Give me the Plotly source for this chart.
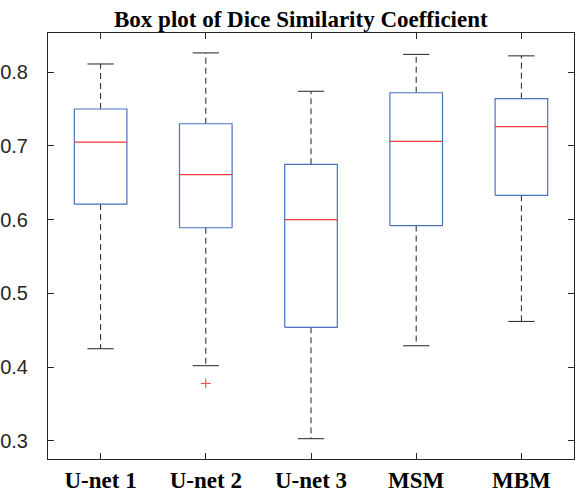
import plotly.graph_objects as go

# values
groups = ['U-net 1', 'U-net 2', 'U-net 3', 'MSM', 'MBM']
upper_whisker = [0.811, 0.826, 0.774, 0.824, 0.822]
q3 = [0.750, 0.730, 0.675, 0.772, 0.764]
median = [0.705, 0.661, 0.600, 0.706, 0.726]
q1 = [0.621, 0.589, 0.454, 0.592, 0.633]
lower_whisker = [0.425, 0.402, 0.303, 0.429, 0.462]
outlier_group = [2]
outlier_value = [0.378]

y_ticks = [0.3, 0.4, 0.5, 0.6, 0.7, 0.8]

BOX_HALF = 0.25
CAP_HALF = 0.125
BLUE = '#4a72c0'
RED = '#f03c3c'
AXIS = '#262626'


def _segments(pairs):
    xs, ys = [], []
    for x0, y0, x1, y1 in pairs:
        xs += [x0, x1, None]
        ys += [y0, y1, None]
    return xs, ys


pos = list(range(1, len(groups) + 1))

box_x, box_y = [], []
for p, lo, hi in zip(pos, q1, q3):
    box_x += [p - BOX_HALF, p + BOX_HALF, p + BOX_HALF, p - BOX_HALF, p - BOX_HALF, None]
    box_y += [lo, lo, hi, hi, lo, None]

med_x, med_y = _segments([(p - BOX_HALF, m, p + BOX_HALF, m) for p, m in zip(pos, median)])
wh_x, wh_y = _segments(
    [(p, hi, p, uw) for p, hi, uw in zip(pos, q3, upper_whisker)]
    + [(p, lo, p, lw) for p, lo, lw in zip(pos, q1, lower_whisker)])
cap_x, cap_y = _segments(
    [(p - CAP_HALF, v, p + CAP_HALF, v) for p, v in zip(pos, upper_whisker)]
    + [(p - CAP_HALF, v, p + CAP_HALF, v) for p, v in zip(pos, lower_whisker)])

traces = [
    go.Scatter(x=wh_x, y=wh_y, mode='lines',
               line={'color': '#222222', 'width': 1, 'dash': '6px,4px'}),
    go.Scatter(x=cap_x, y=cap_y, mode='lines', line={'color': '#222222', 'width': 1}),
    go.Scatter(x=box_x, y=box_y, mode='lines', line={'color': BLUE, 'width': 1.2}),
    go.Scatter(x=med_x, y=med_y, mode='lines', line={'color': RED, 'width': 1.2}),
    go.Scatter(x=outlier_group, y=outlier_value, mode='markers',
               marker={'symbol': 'cross-thin', 'size': 7,
                       'line': {'color': RED, 'width': 1}}),
]

layout = go.Layout(
    width=576,
    height=492,
    margin={'l': 48, 'r': 2, 't': 33, 'b': 33},
    paper_bgcolor='white',
    plot_bgcolor='white',
    showlegend=False,
    annotations=[{
        'text': '<b>Box plot of Dice Similarity Coefficient</b>',
        'xref': 'paper', 'yref': 'paper', 'x': 0.481, 'y': 1.0,
        'xanchor': 'center', 'yanchor': 'bottom', 'yshift': -1, 'showarrow': False,
        'font': {'family': 'Liberation Serif', 'size': 23, 'color': 'black'},
    }],
    xaxis={
        'range': [0.5, 5.5],
        'automargin': False,
        'tickvals': pos,
        'ticktext': ['<b>%s</b>' % g for g in groups],
        'tickfont': {'family': 'Liberation Serif', 'size': 23, 'color': 'black'},
        'ticks': 'inside', 'ticklen': 6, 'tickcolor': AXIS, 'tickwidth': 1,
        'showline': True, 'linecolor': AXIS, 'linewidth': 1, 'mirror': 'ticks',
        'showgrid': False, 'zeroline': False,
    },
    yaxis={
        'range': [0.2755, 0.853],
        'automargin': False,
        'tickvals': y_ticks,
        'ticktext': ['%.1f' % t for t in y_ticks],
        'tickfont': {'family': 'Liberation Sans', 'size': 20, 'color': AXIS},
        'ticklabelstandoff': 15,
        'ticks': 'inside', 'ticklen': 6, 'tickcolor': AXIS, 'tickwidth': 1,
        'showline': True, 'linecolor': AXIS, 'linewidth': 1, 'mirror': 'ticks',
        'showgrid': False, 'zeroline': False,
    },
)

fig = go.Figure(data=traces, layout=layout)
# the page body has a default 8px margin, which would shift the figure
fig.write_html('out.html', config={'displayModeBar': False},
               post_script="document.body.style.margin = '0';")
